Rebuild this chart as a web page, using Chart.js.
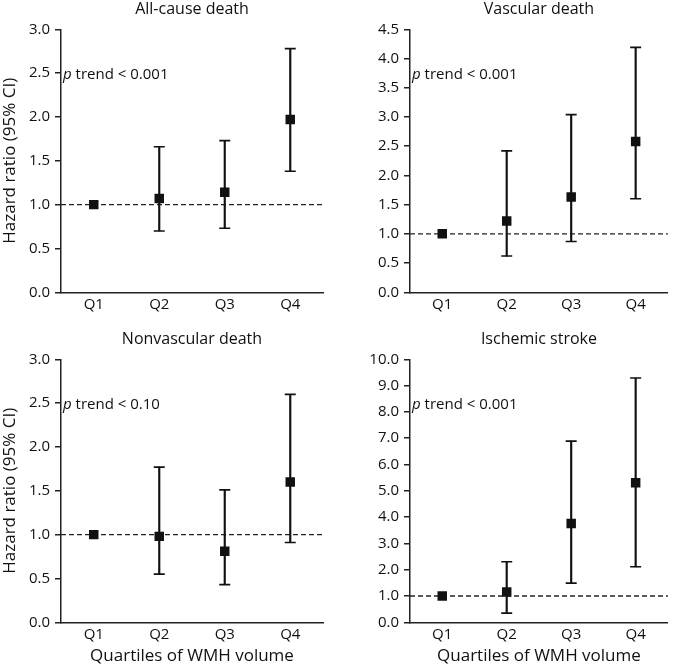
<!DOCTYPE html>
<html><head><meta charset="utf-8">
<script src="https://cdn.jsdelivr.net/npm/chart.js@4/dist/chart.umd.min.js"></script>
<style>
html,body{margin:0;padding:0;background:#fff;width:675px;height:666px;overflow:hidden}
.p{position:absolute}
canvas{display:block}
</style></head><body>
<div class="p" style="left:0;top:0"><canvas id="c1" width="337" height="330"></canvas></div>
<div class="p" style="left:337px;top:0"><canvas id="c2" width="338" height="330"></canvas></div>
<div class="p" style="left:0;top:330px"><canvas id="c3" width="337" height="336"></canvas></div>
<div class="p" style="left:337px;top:330px"><canvas id="c4" width="338" height="336"></canvas></div>
<script>
// ---- data ----
const categories = ['Q1', 'Q2', 'Q3', 'Q4'];
const panelTitles = ['All-cause death', 'Vascular death', 'Nonvascular death', 'Ischemic stroke'];
const trendLabels = [' trend < 0.001', ' trend < 0.001', ' trend < 0.10', ' trend < 0.001'];
const yAxisTitle = 'Hazard ratio (95% CI)';
const xAxisTitle = 'Quartiles of WMH volume';

const allCauseHR   = [1.00, 1.07, 1.14, 1.97];
const allCauseLow  = [null, 0.70, 0.73, 1.38];
const allCauseHigh = [null, 1.66, 1.73, 2.78];

const vascularHR   = [1.00, 1.22, 1.63, 2.58];
const vascularLow  = [null, 0.62, 0.87, 1.60];
const vascularHigh = [null, 2.42, 3.04, 4.19];

const nonvascularHR   = [1.00, 0.98, 0.81, 1.60];
const nonvascularLow  = [null, 0.55, 0.43, 0.91];
const nonvascularHigh = [null, 1.77, 1.51, 2.60];

const strokeHR   = [1.00, 1.15, 3.76, 5.31];
const strokeLow  = [null, 0.35, 1.49, 2.11];
const strokeHigh = [null, 2.30, 6.89, 9.29];

const yMaxes = [3, 4.5, 3, 10];
const ySteps = [0.5, 0.5, 0.5, 1];
const referenceValue = 1;

// ---- drawing ----
const INK = '#111';
const AXIS = '#222';
const FONT = '"Open Sans", "Noto Sans", sans-serif';

const panelDecor = {
  id: 'panelDecor',
  beforeDatasetsDraw(chart, args, opts) {
    const {ctx, chartArea: a, scales: {y}} = chart;
    const py = y.getPixelForValue(opts.refValue);
    ctx.save();
    ctx.strokeStyle = AXIS; ctx.lineWidth = 1.3; ctx.setLineDash([5, 3]);
    ctx.beginPath(); ctx.moveTo(a.left, py); ctx.lineTo(a.right, py); ctx.stroke();
    ctx.restore();
  },
  afterDraw(chart, args, opts) {
    const {ctx, chartArea: a} = chart;
    ctx.save();
    ctx.fillStyle = INK; ctx.textBaseline = 'alphabetic';
    ctx.font = '16px ' + FONT; ctx.textAlign = 'center';
    ctx.fillText(opts.title, (a.left + a.right) / 2, opts.titleY);
    ctx.textAlign = 'left';
    const x0 = a.left + 2, yb = a.top + 49.5;
    ctx.font = 'italic 15px ' + FONT;
    ctx.fillText('p', x0, yb);
    const w = ctx.measureText('p').width;
    ctx.font = '15px ' + FONT;
    ctx.fillText(opts.trend, x0 + w, yb);
    ctx.restore();
  }
};

function makePanel(id, idx, hr, low, high, opt) {
  const ranges = hr.map((v, i) => (low[i] == null ? null : [low[i], high[i]]));
  return new Chart(document.getElementById(id), {
    type: 'bar',
    data: {
      labels: categories,
      datasets: [
        { type: 'line', data: hr, showLine: false, pointStyle: 'rect', pointRadius: 6.7,
          pointBackgroundColor: INK, pointBorderColor: INK, pointBorderWidth: 0, order: 0 },
        { type: 'line', data: high, showLine: false, pointStyle: 'line', pointRadius: 5.5,
          pointBorderColor: INK, pointBorderWidth: 1.6, order: 1 },
        { type: 'line', data: low, showLine: false, pointStyle: 'line', pointRadius: 5.5,
          pointBorderColor: INK, pointBorderWidth: 1.6, order: 2 },
        { type: 'bar', data: ranges, backgroundColor: INK, barThickness: 1.5, order: 3 }
      ]
    },
    options: {
      responsive: false, animation: false, events: [],
      layout: { padding: { top: 29.3, right: opt.padRight, bottom: 0, left: 0 } },
      plugins: {
        legend: { display: false }, tooltip: { enabled: false },
        panelDecor: { title: panelTitles[idx], trend: trendLabels[idx], titleY: 14, refValue: referenceValue }
      },
      scales: {
        x: {
          offset: true,
          grid: { display: false, drawTicks: false },
          border: { display: true, color: AXIS, width: 1.5 },
          ticks: { color: INK, font: { family: FONT, size: 15 }, padding: 3 },
          title: { display: opt.xTitle, text: xAxisTitle, color: INK, font: { family: FONT, size: 17 }, padding: 0 },
          afterFit: (s) => { s.height = opt.xHeight; }
        },
        y: {
          min: 0, max: yMaxes[idx],
          grid: { drawOnChartArea: false, color: AXIS, lineWidth: 1.5, tickLength: 6 },
          border: { display: true, color: AXIS, width: 1.5 },
          ticks: { stepSize: ySteps[idx], color: INK, font: { family: FONT, size: 15 }, padding: 5,
                   callback: (v) => Number(v).toFixed(1) },
          title: { display: opt.yTitle, text: yAxisTitle, color: INK, font: { family: FONT, size: 17 }, padding: 0 },
          afterFit: (s) => { s.width = opt.yWidth; }
        }
      }
    },
    plugins: [panelDecor]
  });
}

makePanel('c1', 0, allCauseHR, allCauseLow, allCauseHigh, { padRight: 14, xHeight: 37.7, yWidth: 61, xTitle: false, yTitle: true });
makePanel('c2', 1, vascularHR, vascularLow, vascularHigh, { padRight: 0, xHeight: 37.7, yWidth: 73, xTitle: false, yTitle: false });
makePanel('c3', 2, nonvascularHR, nonvascularLow, nonvascularHigh, { padRight: 14, xHeight: 43.7, yWidth: 61, xTitle: true, yTitle: true });
makePanel('c4', 3, strokeHR, strokeLow, strokeHigh, { padRight: 0, xHeight: 43.7, yWidth: 73, xTitle: true, yTitle: false });
</script>
</body></html>
